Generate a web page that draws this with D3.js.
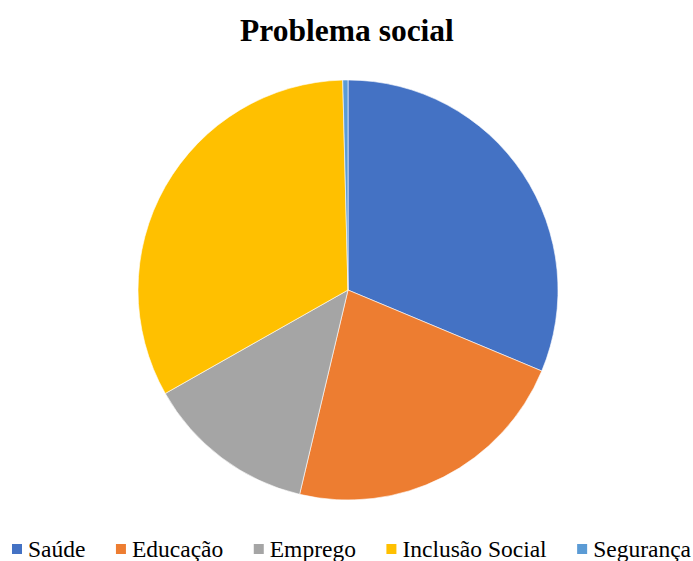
<!DOCTYPE html>
<html>
<head>
<meta charset="utf-8">
<script src="https://cdn.jsdelivr.net/npm/d3@7"></script>
<style>
html,body{margin:0;padding:0;background:#fff;}
svg{display:block;}
text{font-family:"Liberation Serif","Times New Roman",serif;}
</style>
</head>
<body>
<svg id="chart" width="693" height="561"></svg>
<script>
const categories = ["Saúde", "Educação", "Emprego", "Inclusão Social", "Segurança"];
const values = [31.3, 22.4, 13.1, 32.8, 0.4];
const colors = ["#4472C4", "#ED7D31", "#A5A5A5", "#FFC000", "#5B9BD5"];
const title = "Problema social";

const svg = d3.select("#chart");
const cx = 348, cy = 290, R = 210;

svg.append("text")
  .attr("x", 347).attr("y", 41)
  .attr("text-anchor", "middle")
  .attr("font-weight", "bold")
  .attr("font-size", 31.5)
  .attr("fill", "#000")
  .text(title);

const data = categories.map((c, i) => ({cat: c, value: values[i]}));
const pie = d3.pie().value(d => d.value).sort(null);
const arc = d3.arc().innerRadius(0).outerRadius(R);
const color = d3.scaleOrdinal().domain(categories).range(colors);

svg.append("g")
  .attr("transform", `translate(${cx},${cy})`)
  .selectAll("path")
  .data(pie(data))
  .join("path")
  .attr("d", arc)
  .attr("fill", d => color(d.data.cat))
  .attr("stroke", "#fff")
  .attr("stroke-width", 0.6);

const legend = svg.append("g");
let x = 12;
const baseY = 557;
categories.forEach((c) => {
  legend.append("rect")
    .attr("x", x).attr("y", 544)
    .attr("width", 10).attr("height", 10)
    .attr("fill", color(c));
  const t = legend.append("text")
    .attr("x", x + 16).attr("y", baseY)
    .attr("font-size", 23.5)
    .attr("fill", "#000")
    .text(c);
  const w = t.node().getComputedTextLength();
  x = x + 16 + w + 30.5;
});
</script>
</body>
</html>
